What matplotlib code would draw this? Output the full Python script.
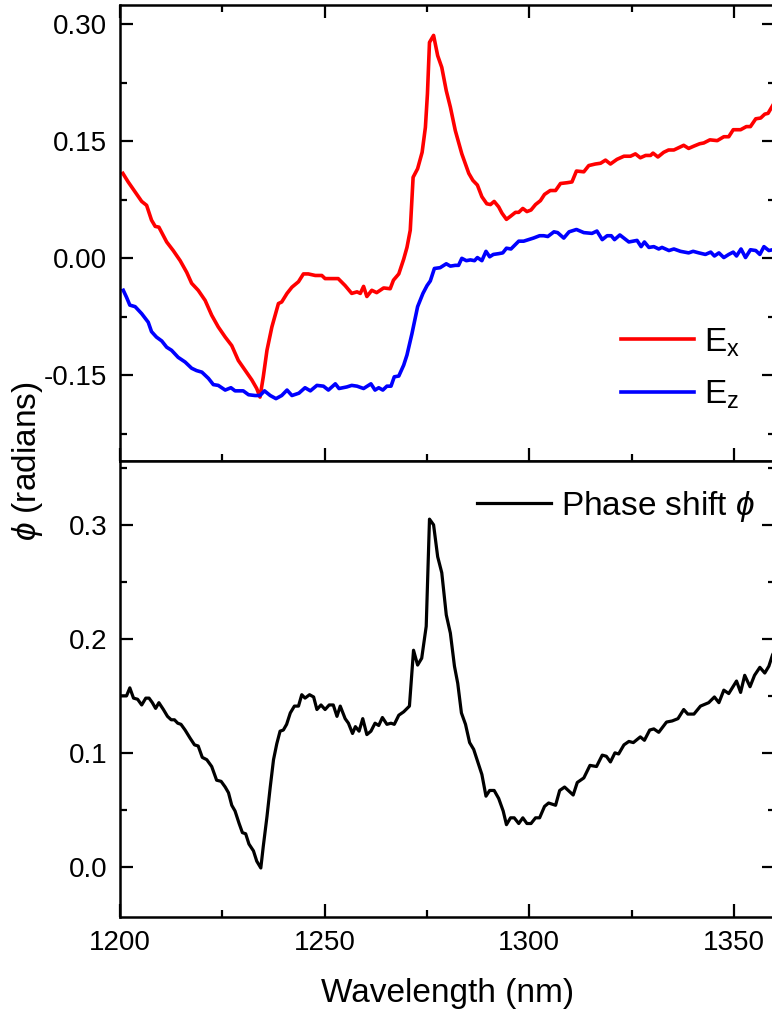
import numpy as np
import matplotlib
matplotlib.use("Agg")
import matplotlib.pyplot as plt
from matplotlib.ticker import MultipleLocator

plt.rcParams['font.family'] = ['Liberation Sans', 'DejaVu Sans']
plt.rcParams['mathtext.fontset'] = 'custom'
plt.rcParams['mathtext.rm'] = 'Liberation Sans'
plt.rcParams['mathtext.it'] = 'Liberation Sans:italic'
plt.rcParams['mathtext.fallback'] = 'stix'

# E_x phase (top panel, red)
ex_wl = [1200.7, 1202.0, 1203.7, 1205.3, 1206.5, 1207.7, 1208.6, 1209.5, 1211.4, 1213.0,
         1214.7, 1216.3, 1217.5, 1219.1, 1220.8, 1222.4, 1224.0, 1225.7, 1227.3, 1228.9,
         1230.6, 1232.2, 1233.4, 1234.2, 1235.0, 1235.9, 1237.1, 1238.7, 1239.5, 1240.8,
         1242.0, 1243.6, 1244.8, 1246.0, 1247.7, 1249.3, 1250.1, 1253.3, 1255.0, 1256.6,
         1257.9, 1258.7, 1259.5, 1260.3, 1261.5, 1262.7, 1264.4, 1266.0, 1266.8, 1268.1,
         1269.3, 1270.1, 1270.9, 1271.6, 1272.7, 1273.8, 1274.6, 1275.1, 1275.6, 1276.6,
         1277.6, 1278.6, 1279.7, 1280.7, 1281.9, 1283.5, 1285.2, 1286.2, 1287.3, 1288.4,
         1289.6, 1290.5, 1291.4, 1292.5, 1293.3, 1294.4, 1295.4, 1296.6, 1297.4, 1298.4,
         1299.4, 1300.4, 1301.5, 1302.7, 1303.7, 1305.1, 1306.4, 1307.6, 1309.2, 1310.4,
         1311.5, 1313.3, 1314.5, 1316.1, 1317.4, 1318.6, 1319.8, 1321.4, 1323.1, 1324.7,
         1325.9, 1327.1, 1328.4, 1329.6, 1330.2, 1331.4, 1332.8, 1334.0, 1335.3, 1336.5,
         1337.7, 1338.9, 1340.2, 1341.6, 1342.6, 1344.1, 1345.9, 1347.5, 1348.7, 1349.8,
         1351.6, 1353.0, 1354.0, 1355.3, 1356.5, 1357.5, 1358.3, 1359.4, 1360.0]
ex_val = [0.109, 0.098, 0.085, 0.073, 0.068, 0.049, 0.041, 0.040, 0.021, 0.010,
          -0.003, -0.018, -0.032, -0.041, -0.054, -0.073, -0.088, -0.101, -0.112, -0.131,
          -0.144, -0.156, -0.167, -0.178, -0.152, -0.118, -0.088, -0.058, -0.056, -0.045,
          -0.037, -0.030, -0.020, -0.020, -0.022, -0.022, -0.026, -0.026, -0.035, -0.045,
          -0.043, -0.045, -0.036, -0.049, -0.041, -0.044, -0.038, -0.039, -0.028, -0.020,
          -0.001, 0.014, 0.036, 0.104, 0.115, 0.136, 0.168, 0.211, 0.277, 0.286,
          0.260, 0.245, 0.215, 0.194, 0.164, 0.134, 0.109, 0.100, 0.094, 0.079,
          0.070, 0.069, 0.073, 0.066, 0.058, 0.050, 0.054, 0.059, 0.059, 0.064,
          0.060, 0.062, 0.069, 0.074, 0.082, 0.087, 0.087, 0.096, 0.097, 0.098,
          0.112, 0.111, 0.119, 0.121, 0.122, 0.126, 0.121, 0.127, 0.131, 0.131,
          0.134, 0.129, 0.132, 0.132, 0.135, 0.130, 0.136, 0.139, 0.139, 0.142,
          0.145, 0.141, 0.144, 0.147, 0.148, 0.152, 0.151, 0.156, 0.156, 0.165,
          0.165, 0.169, 0.169, 0.179, 0.180, 0.185, 0.186, 0.196, 0.200]

# E_z phase (top panel, blue)
ez_wl = [1200.8, 1201.6, 1202.4, 1203.7, 1205.3, 1206.9, 1207.7, 1208.9, 1210.2, 1211.4,
         1212.6, 1214.2, 1215.9, 1217.5, 1218.7, 1220.0, 1221.6, 1222.8, 1224.0, 1225.7,
         1227.1, 1228.1, 1230.1, 1231.4, 1233.0, 1234.2, 1235.3, 1236.7, 1238.1, 1239.5,
         1240.8, 1242.0, 1243.7, 1245.2, 1246.5, 1248.1, 1249.7, 1250.9, 1252.6, 1253.5,
         1255.4, 1256.6, 1257.9, 1259.5, 1261.3, 1262.3, 1263.2, 1264.2, 1265.2, 1266.2,
         1267.0, 1268.1, 1269.3, 1270.1, 1271.3, 1272.7, 1274.0, 1275.0, 1275.8, 1276.8,
         1278.2, 1279.7, 1280.7, 1281.9, 1282.7, 1283.5, 1284.6, 1285.6, 1286.6, 1287.3,
         1288.4, 1289.4, 1290.3, 1291.2, 1292.5, 1293.5, 1294.4, 1295.5, 1297.4, 1298.6,
         1299.8, 1301.0, 1302.5, 1303.5, 1304.5, 1306.0, 1306.9, 1308.4, 1309.7, 1311.5,
         1313.3, 1315.3, 1316.5, 1317.8, 1319.0, 1320.0, 1320.8, 1322.1, 1324.3, 1326.3,
         1327.3, 1328.1, 1329.2, 1330.4, 1331.6, 1332.4, 1334.1, 1335.3, 1336.9, 1338.9,
         1340.0, 1341.4, 1343.0, 1344.3, 1345.2, 1346.3, 1347.5, 1348.7, 1349.8, 1350.6,
         1351.7, 1352.8, 1354.0, 1355.3, 1356.3, 1357.3, 1358.5, 1359.4, 1360.0]
ez_val = [-0.041, -0.050, -0.060, -0.062, -0.071, -0.082, -0.094, -0.101, -0.106, -0.114,
          -0.118, -0.127, -0.133, -0.141, -0.144, -0.146, -0.154, -0.162, -0.163, -0.169,
          -0.166, -0.170, -0.170, -0.175, -0.176, -0.176, -0.170, -0.176, -0.180, -0.176,
          -0.169, -0.176, -0.173, -0.166, -0.170, -0.163, -0.164, -0.169, -0.161, -0.167,
          -0.165, -0.163, -0.164, -0.167, -0.161, -0.169, -0.166, -0.169, -0.164, -0.164,
          -0.152, -0.151, -0.137, -0.124, -0.097, -0.062, -0.045, -0.035, -0.029, -0.013,
          -0.012, -0.007, -0.010, -0.009, -0.009, 0.000, -0.003, -0.002, -0.003, 0.001,
          -0.003, 0.009, 0.002, 0.005, 0.006, 0.007, 0.013, 0.012, 0.022, 0.022,
          0.024, 0.026, 0.029, 0.029, 0.028, 0.034, 0.033, 0.026, 0.034, 0.037,
          0.033, 0.032, 0.035, 0.024, 0.029, 0.029, 0.024, 0.030, 0.021, 0.023,
          0.015, 0.021, 0.014, 0.015, 0.012, 0.014, 0.010, 0.012, 0.009, 0.007,
          0.009, 0.007, 0.005, 0.008, 0.003, 0.007, 0.001, 0.005, 0.008, 0.003,
          0.012, 0.001, 0.011, 0.010, 0.005, 0.015, 0.010, 0.011, 0.010]

# phase shift (bottom panel, black)
ph_wl = [1200.4, 1201.6, 1202.4, 1203.3, 1204.3, 1205.3, 1206.3, 1207.1, 1207.9, 1208.7,
         1209.5, 1210.6, 1211.6, 1212.5, 1213.3, 1214.1, 1214.9, 1215.9, 1217.1, 1218.2,
         1219.1, 1220.1, 1221.2, 1222.4, 1223.6, 1224.7, 1225.7, 1226.5, 1227.3, 1228.1,
         1229.1, 1229.9, 1230.7, 1231.5, 1232.6, 1233.4, 1234.4, 1235.0, 1235.9, 1236.7,
         1237.5, 1238.3, 1239.1, 1239.9, 1240.7, 1241.6, 1242.6, 1243.6, 1244.4, 1245.2,
         1246.3, 1247.3, 1248.1, 1249.1, 1250.1, 1251.1, 1252.1, 1253.0, 1253.8, 1255.0,
         1255.8, 1256.8, 1257.5, 1258.4, 1259.3, 1260.3, 1261.3, 1262.3, 1263.2, 1264.1,
         1265.2, 1266.2, 1267.0, 1268.1, 1269.3, 1270.7, 1271.7, 1272.7, 1273.7, 1274.8,
         1275.6, 1276.6, 1277.6, 1278.6, 1279.7, 1280.7, 1281.7, 1282.5, 1283.4, 1284.4,
         1285.4, 1286.4, 1287.4, 1288.4, 1289.4, 1290.3, 1291.4, 1292.5, 1293.6, 1294.4,
         1295.4, 1296.3, 1297.4, 1298.4, 1299.4, 1300.4, 1301.5, 1302.5, 1303.7, 1304.7,
         1306.4, 1307.4, 1308.6, 1310.7, 1311.7, 1313.3, 1314.8, 1316.4, 1317.8, 1318.8,
         1319.8, 1320.9, 1321.8, 1323.1, 1324.3, 1325.4, 1327.1, 1328.1, 1329.4, 1330.4,
         1331.6, 1333.5, 1334.9, 1336.3, 1337.7, 1338.7, 1340.2, 1341.8, 1343.8, 1345.2,
         1346.3, 1347.5, 1348.7, 1350.6, 1351.6, 1352.6, 1353.9, 1355.0, 1356.3, 1357.5,
         1358.5, 1359.4, 1360.0]
ph_val = [0.150, 0.150, 0.157, 0.148, 0.147, 0.142, 0.148, 0.148, 0.144, 0.139,
          0.144, 0.138, 0.132, 0.129, 0.129, 0.126, 0.125, 0.120, 0.113, 0.107,
          0.106, 0.096, 0.094, 0.088, 0.076, 0.075, 0.070, 0.065, 0.054, 0.049,
          0.038, 0.030, 0.029, 0.020, 0.014, 0.005, -0.001, 0.018, 0.044, 0.070,
          0.094, 0.108, 0.119, 0.120, 0.125, 0.135, 0.141, 0.141, 0.151, 0.148,
          0.151, 0.149, 0.138, 0.142, 0.138, 0.142, 0.142, 0.132, 0.141, 0.130,
          0.126, 0.117, 0.123, 0.119, 0.130, 0.116, 0.119, 0.126, 0.124, 0.131,
          0.125, 0.126, 0.125, 0.133, 0.136, 0.141, 0.190, 0.177, 0.183, 0.211,
          0.305, 0.300, 0.272, 0.258, 0.221, 0.205, 0.176, 0.161, 0.135, 0.125,
          0.109, 0.103, 0.092, 0.081, 0.062, 0.067, 0.067, 0.060, 0.049, 0.037,
          0.043, 0.043, 0.038, 0.043, 0.038, 0.038, 0.043, 0.043, 0.053, 0.056,
          0.054, 0.067, 0.070, 0.063, 0.074, 0.078, 0.089, 0.088, 0.098, 0.097,
          0.092, 0.100, 0.099, 0.107, 0.110, 0.109, 0.114, 0.111, 0.120, 0.121,
          0.118, 0.127, 0.128, 0.130, 0.138, 0.134, 0.134, 0.141, 0.144, 0.149,
          0.144, 0.155, 0.152, 0.163, 0.153, 0.168, 0.158, 0.168, 0.175, 0.170,
          0.176, 0.186, 0.190]

W, H = 772, 1015
fig = plt.figure(figsize=(W / 100, H / 100), dpi=100)
left, right = 120 / W, 775 / W
split = 1 - 461 / H
ax1 = fig.add_axes([left, split, right - left, (1 - 5 / H) - split])
ax2 = fig.add_axes([left, 1 - 917 / H, right - left, split - (1 - 917 / H)])

ax1.plot(ex_wl, ex_val, color='#ff0000', lw=2.6, label='E$_{\\mathrm{x}}$')
ax1.plot(ez_wl, ez_val, color='#0000ff', lw=2.6, label='E$_{\\mathrm{z}}$')
ax2.plot(ph_wl, ph_val, color='black', lw=2.3, label='Phase shift $\\mathit{\u03d5}$')

for ax in (ax1, ax2):
    ax.set_xlim(1200, 1360)
    ax.xaxis.set_major_locator(MultipleLocator(50))
    ax.xaxis.set_minor_locator(MultipleLocator(25))
    for s in ax.spines.values():
        s.set_linewidth(1.8)
    ax.tick_params(which='both', direction='in', width=1.6, labelsize=20, pad=9,
                   left=True, right=True)
    ax.tick_params(which='major', length=9.5)
    ax.tick_params(which='minor', length=5)

ax1.set_ylim(-0.26, 0.325)
ax1.yaxis.set_major_locator(MultipleLocator(0.15))
ax1.yaxis.set_minor_locator(MultipleLocator(0.075))
ax1.yaxis.set_major_formatter(matplotlib.ticker.FormatStrFormatter('%.2f'))
ax1.tick_params(which='both', top=True, bottom=True, labelbottom=False)

ax2.set_ylim(-0.044, 0.356)
ax2.yaxis.set_major_locator(MultipleLocator(0.1))
ax2.yaxis.set_minor_locator(MultipleLocator(0.05))
ax2.yaxis.set_major_formatter(matplotlib.ticker.FormatStrFormatter('%.1f'))
ax2.tick_params(which='both', top=False, bottom=True)
ax2.set_xlabel('Wavelength (nm)', fontsize=24, labelpad=16)

fig.text(28 / W, split, '$\\mathit{\u03d5}$ (radians)', rotation=90, fontsize=24,
         ha='center', va='center')

ax1.legend(loc='upper left', bbox_to_anchor=(0.744, 0.325), frameon=False, fontsize=24,
           handlelength=2.2, handletextpad=0.3, labelspacing=0.6, borderaxespad=0)
ax2.legend(loc='upper left', bbox_to_anchor=(0.525, 0.968), frameon=False, fontsize=24,
           handlelength=2.2, handletextpad=0.3, borderaxespad=0)

fig.savefig('out.png', dpi=100)
